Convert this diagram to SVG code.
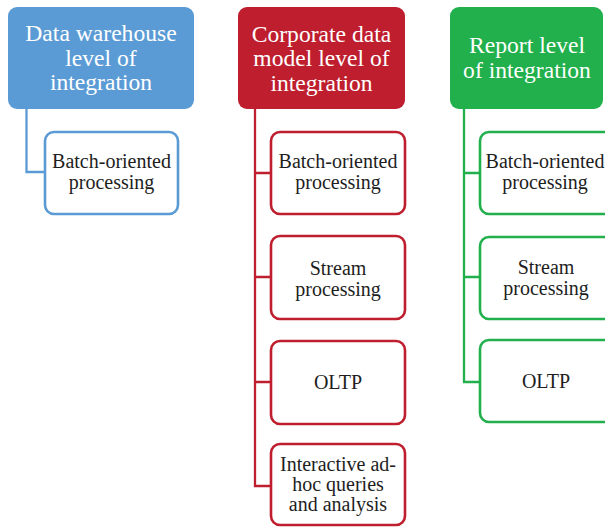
<svg xmlns="http://www.w3.org/2000/svg" width="605" height="527" viewBox="0 0 605 527">
  <style>
    text { font-family: 'Liberation Serif', Tinos, 'DejaVu Serif', serif; text-anchor: middle; }
    .hdr text { font-size: 23.6px; fill: #ffffff; }
    .box text { font-size: 20px; fill: #1e1e1e; }
    .box rect { fill: #ffffff; stroke-width: 2.6; }
    .blue rect.h { fill: #5b9bd5; }
    .red rect.h { fill: #be1e2d; }
    .green rect.h { fill: #21b04b; }
    .blue.box rect { stroke: #5b9bd5; }
    .red.box rect { stroke: #be1e2d; }
    .green.box rect { stroke: #21b04b; }
    .conn path { fill: none; stroke-width: 2.3; }
  </style>
  <rect width="605" height="527" fill="#ffffff"/>

  <!-- connectors -->
  <g id="connectors" class="conn">
    <path d="M26.5 108 V172 H45" stroke="#5b9bd5"/>
    <path d="M255 108 V486 H271 M255 173 H271 M255 277 H271 M255 382 H271" stroke="#be1e2d"/>
    <path d="M464 108 V382 H480 M464 173 H480 M464 277 H480" stroke="#21b04b"/>
  </g>

  <!-- column 1 -->
  <g id="dw-header" class="hdr blue">
    <rect class="h" x="8" y="7" width="186" height="102" rx="9"/>
    <text x="101" y="41">Data warehouse</text>
    <text x="101" y="65.5">level of</text>
    <text x="101" y="90">integration</text>
  </g>
  <g id="dw-batch" class="box blue">
    <rect x="45" y="132" width="133" height="82" rx="9"/>
    <text x="111.5" y="168">Batch-oriented</text>
    <text x="111.5" y="189">processing</text>
  </g>

  <!-- column 2 -->
  <g id="cdm-header" class="hdr red">
    <rect class="h" x="238" y="7" width="167" height="102" rx="9"/>
    <text x="321.5" y="41.5">Corporate data</text>
    <text x="321.5" y="66">model level of</text>
    <text x="321.5" y="90.5">integration</text>
  </g>
  <g id="cdm-batch" class="box red">
    <rect x="271" y="132" width="134" height="82" rx="9"/>
    <text x="338" y="168">Batch-oriented</text>
    <text x="338" y="189">processing</text>
  </g>
  <g id="cdm-stream" class="box red">
    <rect x="271" y="236" width="134" height="83" rx="9"/>
    <text x="338" y="275">Stream</text>
    <text x="338" y="296">processing</text>
  </g>
  <g id="cdm-oltp" class="box red">
    <rect x="271" y="341" width="134" height="83" rx="9"/>
    <text x="338" y="389">OLTP</text>
  </g>
  <g id="cdm-adhoc" class="box red">
    <rect x="271" y="444" width="134" height="81" rx="9"/>
    <text x="338" y="470.5">Interactive ad-</text>
    <text x="338" y="490.5">hoc queries</text>
    <text x="338" y="510.5">and analysis</text>
  </g>

  <!-- column 3 -->
  <g id="rep-header" class="hdr green">
    <rect class="h" x="450" y="7" width="153" height="102" rx="9"/>
    <text x="527" y="53">Report level</text>
    <text x="527" y="77.5">of integration</text>
  </g>
  <g id="rep-batch" class="box green">
    <rect x="480" y="132" width="134" height="82" rx="9"/>
    <text x="545" y="168">Batch-oriented</text>
    <text x="545" y="189">processing</text>
  </g>
  <g id="rep-stream" class="box green">
    <rect x="480" y="237" width="134" height="82" rx="9"/>
    <text x="546" y="274">Stream</text>
    <text x="546" y="295">processing</text>
  </g>
  <g id="rep-oltp" class="box green">
    <rect x="480" y="340" width="134" height="82" rx="9"/>
    <text x="546" y="388">OLTP</text>
  </g>
</svg>
